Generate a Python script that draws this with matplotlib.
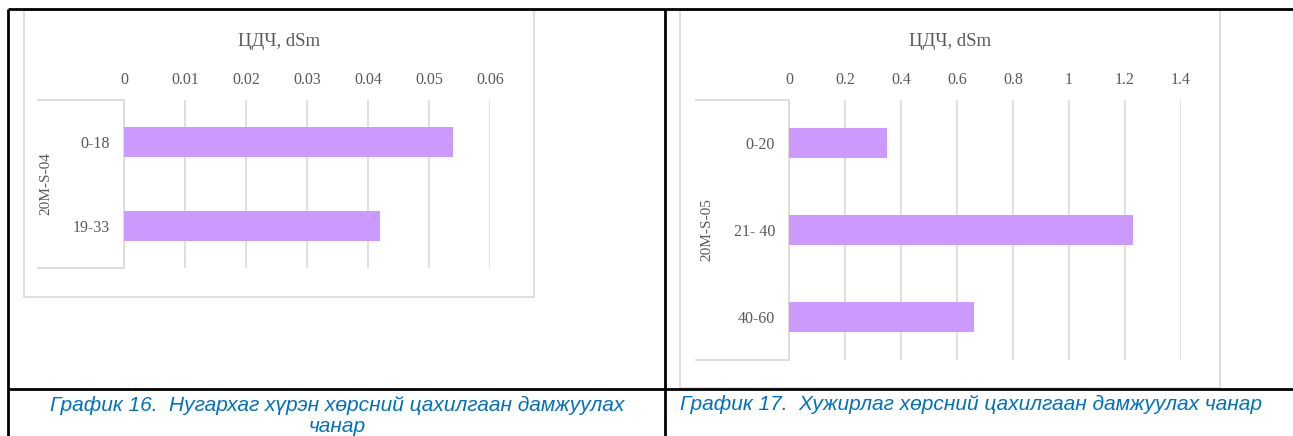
import matplotlib.pyplot as plt
from matplotlib.lines import Line2D
from matplotlib.patches import Rectangle

# Chart 16 data
cats_16 = ['0-18', '19-33']
vals_16 = [0.054, 0.042]
group_16 = '20M-S-04'
ticks_16 = [0, 0.01, 0.02, 0.03, 0.04, 0.05, 0.06]
tick_labels_16 = ['0', '0.01', '0.02', '0.03', '0.04', '0.05', '0.06']

# Chart 17 data
cats_17 = ['0-20', '21- 40', '40-60']
vals_17 = [0.35, 1.23, 0.66]
group_17 = '20M-S-05'
ticks_17 = [0, 0.2, 0.4, 0.6, 0.8, 1.0, 1.2, 1.4]
tick_labels_17 = ['0', '0.2', '0.4', '0.6', '0.8', '1', '1.2', '1.4']

title_text = 'ЦДЧ, dSm'
caption_16 = 'График 16.  Нугархаг хүрэн хөрсний цахилгаан дамжуулах\nчанар'
caption_17 = 'График 17.  Хужирлаг хөрсний цахилгаан дамжуулах чанар'

W, H = 1293, 436
BAR = '#CC99FF'
GRID = '#D9D9D9'
TXT = '#595959'
CAP = '#0070C0'
SERIF = 'Liberation Serif'

fig = plt.figure(figsize=(W / 100, H / 100), dpi=100)


def fx(px):
    return px / W


def fy(py):
    return 1 - py / H


def fig_line(x0, y0, x1, y1, color='black', lw=2):
    fig.add_artist(Line2D([fx(x0), fx(x1)], [fy(y0), fy(y1)], color=color, lw=lw,
                          transform=fig.transFigure, solid_capstyle='butt'))


def chart(frame, plot, cats, vals, ticks, tick_labels, group, group_x, cat_left, bar_px):
    # outer chart frame
    fx0, fy0, fx1, fy1 = frame
    fig.add_artist(Rectangle((fx(fx0), fy(fy1)), fx(fx1 - fx0), (fy1 - fy0) / H,
                             transform=fig.transFigure, fill=False, ec=GRID, lw=1.2))
    x0, y0, x1, y1 = plot
    ax = fig.add_axes([fx(x0), fy(y1), fx(x1 - x0), (y1 - y0) / H])
    n = len(cats)
    h = bar_px / ((y1 - y0) / n)
    ax.barh(range(n), vals, height=h, color=BAR, zorder=3)
    ax.set_ylim(n - 0.5, -0.5)
    ax.set_xlim(ticks[0], ticks[-1])
    ax.xaxis.tick_top()
    ax.set_xticks(ticks)
    ax.set_xticklabels(tick_labels, fontfamily=SERIF, fontsize=11.5, color=TXT)
    ax.set_yticks(range(n))
    ax.set_yticklabels(cats, fontfamily=SERIF, fontsize=11.5, color=TXT)
    ax.tick_params(axis='x', length=0, pad=9)
    ax.tick_params(axis='y', length=0, pad=10)
    ax.grid(axis='x', color=GRID, lw=1.2, zorder=0)
    for s in ['top', 'right', 'bottom']:
        ax.spines[s].set_visible(False)
    ax.spines['left'].set_color(GRID)
    ax.spines['left'].set_linewidth(1.2)
    ax.set_facecolor('none')
    # multi-level category box lines
    fig_line(cat_left, y0, x0, y0, color=GRID, lw=1.2)
    fig_line(cat_left, y1, x0, y1, color=GRID, lw=1.2)
    fig.text(fx(group_x), fy((y0 + y1) / 2), group, rotation=90, ha='center', va='center',
             fontfamily=SERIF, fontsize=11, color=TXT)
    fig.text(fx((fx0 + fx1) / 2), fy(42), title_text, ha='center', va='center',
             fontfamily=SERIF, fontsize=13.5, color=TXT)
    return ax


chart((24, 10, 534, 297), (124, 100, 490, 268), cats_16, vals_16, ticks_16, tick_labels_16,
      group_16, 46, 37, 30)
chart((680, 10, 1220, 388), (789, 100, 1181, 360), cats_17, vals_17, ticks_17, tick_labels_17,
      group_17, 707, 695, 30)

# table borders
fig_line(8, 9, W, 9)
fig_line(8, 9, 8, H)
fig_line(665, 9, 665, H)
fig_line(8, 389, W, 389)

# captions
fig.text(fx(337), fy(416), caption_16, ha='center', va='center', fontfamily='Liberation Sans',
         style='italic', fontsize=15, color=CAP, linespacing=1.15)
fig.text(fx(680), fy(404), caption_17, ha='left', va='center', fontfamily='Liberation Sans',
         style='italic', fontsize=15, color=CAP)

fig.savefig('out.png', dpi=100)
